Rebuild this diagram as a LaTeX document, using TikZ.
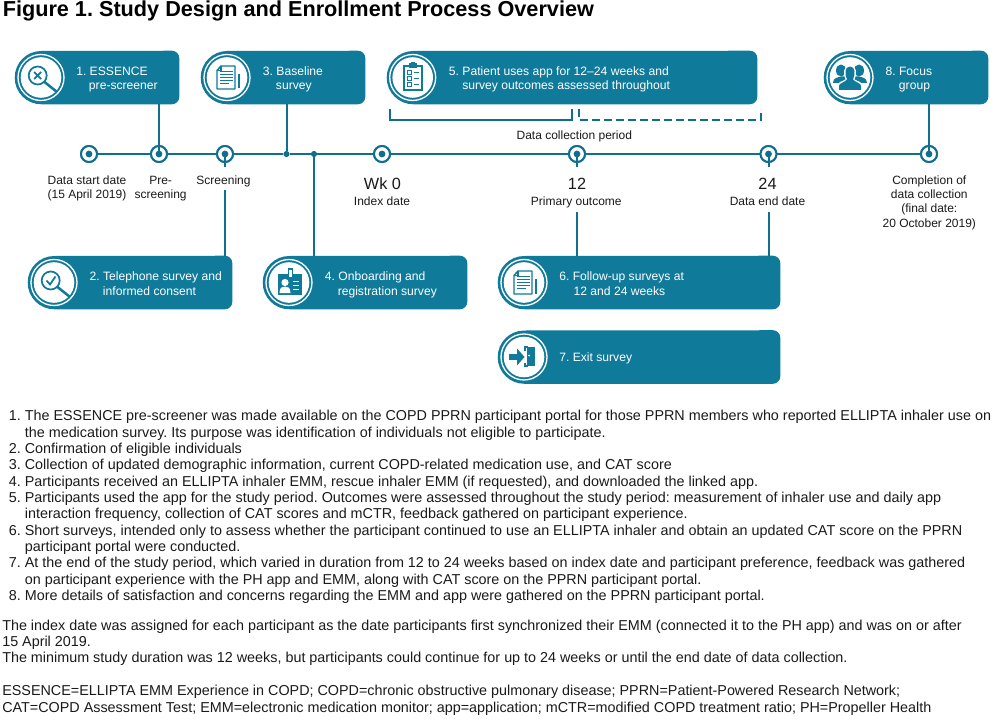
\documentclass[tikz,border=0pt]{standalone}
\usepackage{fontspec}
\setmainfont{Liberation Sans}
\usetikzlibrary{fit}
\frenchspacing
\definecolor{tealbox}{HTML}{0F7A99}
\definecolor{tealline}{HTML}{106E8E}
\definecolor{inktext}{HTML}{1A1A1A}
\tikzset{
  boxfill/.style={fill=tealbox,draw=none},
  conn/.style={draw=tealline,line width=1.5pt},
  tdot/.style={circle,fill=white,draw=tealline,line width=1.4pt,minimum size=12pt,inner sep=0pt},
  jdot/.style={circle,fill=tealline,minimum size=4.6pt,inner sep=0pt},
  boxtext/.style={anchor=base west,inner sep=0pt,text=white,font=\fontsize{9.1}{11}\selectfont},
  lbl/.style={anchor=base,inner sep=0pt,text=inktext,font=\fontsize{9}{11}\selectfont},
  lblbig/.style={anchor=base,inner sep=0pt,text=inktext,font=\fontsize{12.2}{14}\selectfont},
  bodytext/.style={anchor=base west,inner sep=0pt,text=inktext,font=\fontsize{10.77}{12}\selectfont},
  ic/.style={draw=tealbox,line width=1pt,fill=none},
  icf/.style={fill=tealbox,draw=none},
  icw/.style={draw=white,line width=.8pt},
}
\newcommand{\pillbox}[5]{% name x1 x2 y1 y2 (all pills are 53 px tall)
  \node[fit={(#2,#4)(#3,#5)},inner sep=0pt,name=#1]{};
  \fill[boxfill] (#1.west) arc[start angle=180,end angle=90,radius=19.875pt]
     -- ([xshift=-5.5pt]#1.north east) arc[start angle=90,end angle=0,radius=5.5pt]
     -- ([yshift=5.5pt]#1.south east) arc[start angle=0,end angle=-90,radius=5.5pt]
     -- ([xshift=19.875pt]#1.south west) arc[start angle=270,end angle=180,radius=19.875pt] -- cycle;
}
\newcommand{\medal}[1]{%
  \fill[white] (#1) circle[radius=20.3];
  \draw[white,line width=1pt] (#1) circle[radius=23];
}
\newcommand{\iconlens}[1]{%
  \draw[ic,line width=1.3pt] (-3.3,-2) circle[radius=9];
  \draw[tealbox,line width=1.9pt,line cap=round] (3.5,4.5) -- (15,13.7);
  #1
}
\newcommand{\icondoc}{%
  \draw[ic,line width=1.1pt,line join=round] (-6,-11.5) -- (8,-11.5) -- (8,11.5) -- (-10,11.5) -- (-10,-7) -- cycle;
  \draw[ic,line width=.9pt] (-10,-7) -- (-6,-7) -- (-6,-11.5);
  \foreach \yy/\xe in {-6/6,-3/6,0/6,3/6,6/2}{\draw[tealbox,line width=1.1pt] (-7.5,\yy) -- (\xe,\yy);}
  \fill[tealbox] (11,-3.5) rectangle (13,11);
}
\begin{document}
\begin{tikzpicture}[x=0.75pt,y=-0.75pt]
\useasboundingbox (0,0) rectangle (1000,724);
\fill[white] (0,0) rectangle (1000,724);
\node[anchor=base west,inner sep=0pt,text=black,font=\fontsize{16.25}{18}\selectfont\bfseries] (title) at (2.5,17) {Figure 1. Study Design and Enrollment Process Overview};

% boxes
\pillbox{b1}{15}{179}{51}{104}
\pillbox{b3}{201}{365}{51}{104}
\pillbox{b5}{387}{757}{51}{104}
\pillbox{b8}{824}{988}{51}{104}
\pillbox{b2}{28}{232}{256}{309}
\pillbox{b4}{263}{467}{256}{309}
\pillbox{b6}{498}{780}{256}{309}
\pillbox{b7}{498}{780}{330.5}{383.5}

% timeline
\node[tdot] (t1) at (89,154) {};
\node[tdot] (t2) at (159,154) {};
\node[tdot] (t3) at (225,154) {};
\node[jdot] (j3) at (286.5,154) {};
\node[jdot] (j4) at (314,154) {};
\node[tdot] (t4) at (382,154) {};
\node[tdot] (t5) at (577,154) {};
\node[tdot] (t6) at (768.5,154) {};
\node[tdot] (t7) at (929,154) {};
\draw[conn] (t1) -- (t2);
\draw[conn] (t2) -- (t3);
\draw[conn] (t3) -- (j3);
\draw[conn] (j3) -- (j4);
\draw[conn] (j4) -- (t4);
\draw[conn] (t4) -- (t5);
\draw[conn] (t5) -- (t6);
\draw[conn] (t6) -- (t7);
\foreach \n in {t1,t2,t3,t4,t5,t6,t7}{
  \draw[tealline,line width=1.5pt,fill=white] (\n) circle[radius=8];
  \fill[tealline] (\n) circle[radius=3.4];
}
% connectors
\coordinate (s3a) at (225,167); \coordinate (s3b) at (225,190);
\coordinate (s5a) at (577,167); \coordinate (s5b) at (577,212);
\coordinate (s6a) at (768.5,167); \coordinate (s6b) at (768.5,212);
\draw[conn] (b1.south -| t2) -- (t2.center);
\draw[conn] (b3.south -| j3) -- (j3);
\draw[conn] (b8.south -| t7) -- (t7.center);
\draw[conn] (t3.center) -- (s3a);
\draw[conn] (s3b) -- (s3b |- b2.north);
\draw[conn] (j4) -- (j4 |- b4.north);
\draw[conn] (t5.center) -- (s5a);
\draw[conn] (s5b) -- (s5b |- b6.north);
\draw[conn] (t6.center) -- (s6a);
\draw[conn] (s6b) -- (s6b |- b6.north);

% brackets
\coordinate (br1a) at (390,109); \coordinate (br1b) at (390,120); \coordinate (br1c) at (572,120); \coordinate (br1d) at (572,109);
\draw[tealline,line width=1.5pt] (br1a) -- (br1b) -- (br1c) -- (br1d);
\coordinate (br2a) at (579,109); \coordinate (br2b) at (579,120); \coordinate (br2c) at (761,120); \coordinate (br2d) at (761,109);
\draw[tealline,line width=1.5pt,dash pattern=on 6.2pt off 2.8pt] (br2a) -- (br2b) -- (br2c) -- (br2d);

% medals
\coordinate (m1) at (41,77.5); \coordinate (m3) at (227,77.5); \coordinate (m5) at (412.7,77.5); \coordinate (m8) at (850,77.5);
\coordinate (m2) at (54,282.5); \coordinate (m4) at (289,282.5); \coordinate (m6) at (524,282.5); \coordinate (m7) at (524,357);
\foreach \m in {m1,m2,m3,m4,m5,m6,m7,m8}{\medal{\m}}

% icons
\begin{scope}[shift={(m1)}]
  \iconlens{\draw[tealbox,line width=1.3pt] (-6.8,-5.5) -- (0.2,1.5) (-6.8,1.5) -- (0.2,-5.5);}
\end{scope}
\begin{scope}[shift={(m2)}]
  \iconlens{\draw[tealbox,line width=1.3pt] (-7.5,-2) -- (-4,2) -- (1.5,-6);}
\end{scope}
\begin{scope}[shift={(m3)}]
  \icondoc
\end{scope}
\begin{scope}[shift={(m6)}]
  \icondoc
\end{scope}
\begin{scope}[shift={(m5)}]
  \draw[ic,line width=1.5pt] (-8.5,-11) rectangle (9,13);
  \fill[tealbox] (-4,-14) rectangle (4.5,-9);
  \fill[tealbox] (-1.5,-15.5) rectangle (2,-13);
  \foreach \yy in {-5,1,7}{
    \draw[tealbox,line width=.8pt] (-5,\yy-1.7) rectangle (-1.6,\yy+1.7);
    \draw[tealbox,line width=1.2pt] (1,\yy) -- (6.5,\yy);
  }
\end{scope}
\begin{scope}[shift={(m4)}]
  \fill[tealbox] (-11,-9) rectangle (12.5,12.5);
  \fill[tealbox] (-1.5,-14.5) rectangle (4,-7);
  \fill[white] (0,-13) rectangle (2.5,-6);
  \fill[white] (-4,0) circle[radius=3.6];
  \fill[white] (-9.5,10.5) .. controls (-9.5,5) and (-7,4) .. (-4,4) .. controls (-1,4) and (1.5,5) .. (1.5,10.5) -- cycle;
  \foreach \yy in {-1,3,7}{\draw[white,line width=1.1pt] (3.5,\yy) -- (10,\yy);}
\end{scope}
\begin{scope}[shift={(m7)}]
  \fill[tealbox] (-15,-3) rectangle (-6,3);
  \fill[tealbox] (-7,-8.5) -- (0.5,0) -- (-7,8.5) -- cycle;
  \fill[tealbox] (3,-10) -- (11,-10) -- (11,9) -- (3,9) -- cycle;
  \draw[tealbox,line width=1pt] (1,-6) -- (1,-10) -- (4,-10) (1,6) -- (1,9) -- (4,9);
  \fill[white] (5.2,-1.5) circle[radius=1];
\end{scope}
\begin{scope}[shift={(m8)}]
  \fill[tealbox] (-9,-7) ellipse[x radius=5,y radius=6];
  \fill[tealbox] (9,-7) ellipse[x radius=5,y radius=6];
  \fill[tealbox] (-17,5.5) .. controls (-17,0) and (-12,0) .. (-9,-1) -- (9,-1) .. controls (12,0) and (17,0) .. (17,5.5) -- cycle;
  \fill[white] (-12.5,13) -- (-12.5,8) .. controls (-12.5,4.5) and (-7,3.5) .. (-4.5,2) .. controls (-7,-3) and (-7,-12.5) .. (0,-12.5) .. controls (7,-12.5) and (7,-3) .. (4.5,2) .. controls (7,3.5) and (12.5,4.5) .. (12.5,8) -- (12.5,13) -- cycle;
  \fill[tealbox] (-11,12.5) -- (-11,8.5) .. controls (-11,5.5) and (-5.5,5) .. (-3,2) .. controls (-5.5,-3) and (-5.5,-11) .. (0,-11) .. controls (5.5,-11) and (5.5,-3) .. (3,2) .. controls (5.5,5) and (11,5.5) .. (11,8.5) -- (11,12.5) -- cycle;
\end{scope}

% box text
\node[boxtext] (x1a) at (76,75) {1. ESSENCE};
\node[boxtext] (x1b) at (88.7,89.5) {pre-screener};
\node[boxtext] (x3a) at (262.7,75) {3. Baseline};
\node[boxtext] (x3b) at (275.7,89.5) {survey};
\node[boxtext] (x5a) at (448.7,75) {5. Patient uses app for 12–24 weeks and};
\node[boxtext] (x5b) at (462,89.5) {survey outcomes assessed throughout};
\node[boxtext] (x8a) at (885.3,75) {8. Focus};
\node[boxtext] (x8b) at (898.7,89.5) {group};
\node[boxtext] (x2a) at (89.3,280) {2. Telephone survey and};
\node[boxtext] (x2b) at (102.7,295) {informed consent};
\node[boxtext] (x4a) at (324.7,280) {4. Onboarding and};
\node[boxtext] (x4b) at (337.5,295) {registration survey};
\node[boxtext] (x6a) at (559,280) {6. Follow-up surveys at};
\node[boxtext] (x6b) at (573.3,295) {12 and 24 weeks};
\node[boxtext] (x7a) at (559,361.3) {7. Exit survey};

% timeline labels
\node[lbl] (l1a) at (87,184) {Data start date};
\node[lbl] (l1b) at (87,198.5) {(15 April 2019)};
\node[lbl] (l2a) at (160.6,184) {Pre-};
\node[lbl] (l2b) at (160.6,198.5) {screening};
\node[lbl] (l3a) at (223.5,184) {Screening};
\node[lbl] (dcp) at (574.3,139) {Data collection period};
\node[lblbig] (l4a) at (382.5,189) {Wk 0};
\node[lbl] (l4b) at (382,205) {Index date};
\node[lblbig] (l5a) at (577,189) {12};
\node[lbl] (l5b) at (576.3,205) {Primary outcome};
\node[lblbig] (l6a) at (767.5,189) {24};
\node[lbl] (l6b) at (767.5,205) {Data end date};
\node[lbl] (l7a) at (929.3,184) {Completion of};
\node[lbl] (l7b) at (929.3,198.4) {data collection};
\node[lbl] (l7c) at (929.3,212.8) {(final date:};
\node[lbl] (l7d) at (929.3,227.3) {20 October 2019)};

% body
\node[bodytext] (n1) at (8.5,420.7) {1.};
\node[bodytext] (p1a) at (24.6,420.7) {The ESSENCE pre-screener was made available on the COPD PPRN participant portal for those PPRN members who reported ELLIPTA inhaler use on};
\node[bodytext] (p1b) at (24.6,437.1) {the medication survey. Its purpose was identification of individuals not eligible to participate.};
\node[bodytext] (n2) at (8.5,453.4) {2.};
\node[bodytext] (p2) at (24.6,453.4) {Confirmation of eligible individuals};
\node[bodytext] (n3) at (8.5,469.8) {3.};
\node[bodytext] (p3) at (24.6,469.8) {Collection of updated demographic information, current COPD-related medication use, and CAT score};
\node[bodytext] (n4) at (8.5,486.1) {4.};
\node[bodytext] (p4) at (24.6,486.1) {Participants received an ELLIPTA inhaler EMM, rescue inhaler EMM (if requested), and downloaded the linked app.};
\node[bodytext] (n5) at (8.5,502.5) {5.};
\node[bodytext] (p5a) at (24.6,502.5) {Participants used the app for the study period. Outcomes were assessed throughout the study period: measurement of inhaler use and daily app};
\node[bodytext] (p5b) at (24.6,518.8) {interaction frequency, collection of CAT scores and mCTR, feedback gathered on participant experience.};
\node[bodytext] (n6) at (8.5,535.2) {6.};
\node[bodytext] (p6a) at (24.6,535.2) {Short surveys, intended only to assess whether the participant continued to use an ELLIPTA inhaler and obtain an updated CAT score on the PPRN};
\node[bodytext] (p6b) at (24.6,551.5) {participant portal were conducted.};
\node[bodytext] (n7) at (8.5,567.9) {7.};
\node[bodytext] (p7a) at (24.6,567.9) {At the end of the study period, which varied in duration from 12 to 24 weeks based on index date and participant preference, feedback was gathered};
\node[bodytext] (p7b) at (24.6,584.3) {on participant experience with the PH app and EMM, along with CAT score on the PPRN participant portal.};
\node[bodytext] (n8) at (8.5,600.7) {8.};
\node[bodytext] (p8) at (24.6,600.7) {More details of satisfaction and concerns regarding the EMM and app were gathered on the PPRN participant portal.};
\node[bodytext] (q1) at (2,630) {The index date was assigned for each participant as the date participants first synchronized their EMM (connected it to the PH app) and was on or after};
\node[bodytext] (q2) at (2,646.4) {15 April 2019.};
\node[bodytext] (q3) at (2,662.7) {The minimum study duration was 12 weeks, but participants could continue for up to 24 weeks or until the end date of data collection.};
\node[bodytext] (a1) at (2,695.7) {ESSENCE=ELLIPTA EMM Experience in COPD; COPD=chronic obstructive pulmonary disease; PPRN=Patient-Powered Research Network;};
\node[bodytext] (a2) at (2,712) {CAT=COPD Assessment Test; EMM=electronic medication monitor; app=application; mCTR=modified COPD treatment ratio; PH=Propeller Health};
\end{tikzpicture}
\end{document}
